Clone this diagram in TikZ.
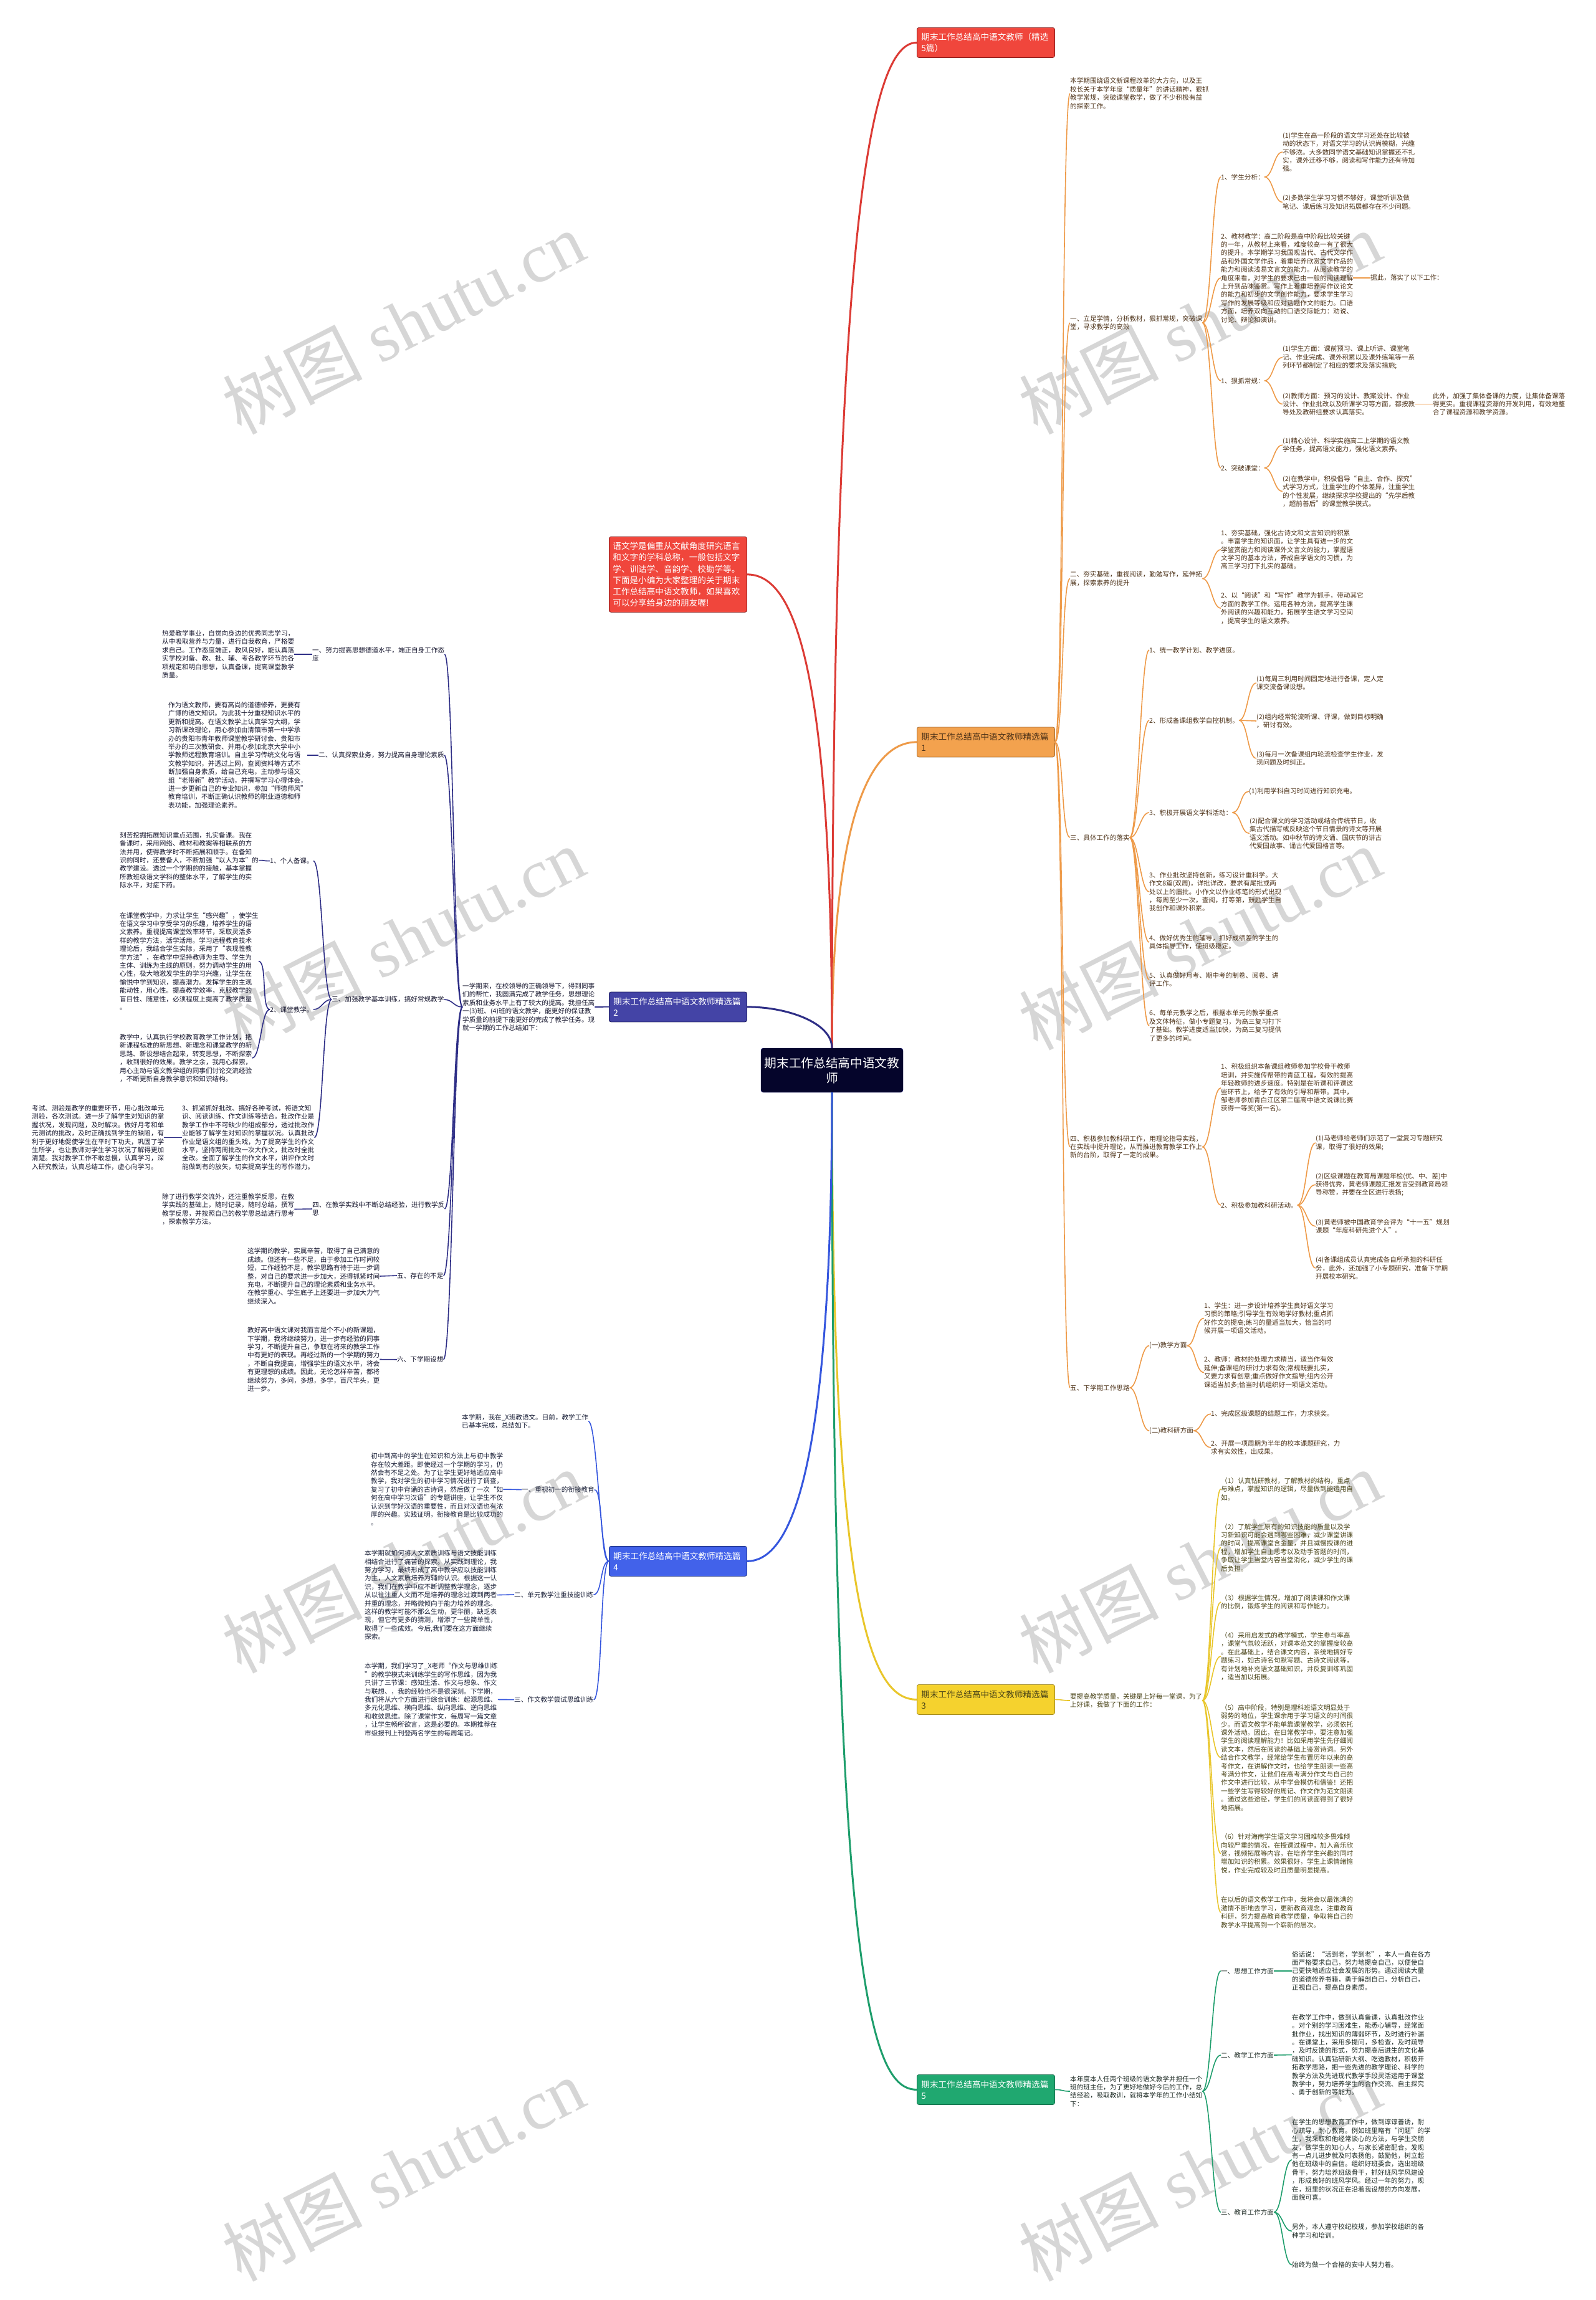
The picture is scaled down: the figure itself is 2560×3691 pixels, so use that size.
\documentclass[tikz,border=0pt]{standalone}
\usepackage{fontspec}
\setmainfont{Noto Sans CJK SC}
\newfontfamily\wmlatin{Liberation Serif}
\newfontfamily\wmcjk{Noto Sans CJK SC}
\definecolor{cRed}{HTML}{DC3B35}
\definecolor{cRedFill}{HTML}{F0463C}
\definecolor{cRedDraw}{HTML}{8A1C1C}
\definecolor{cOrange}{HTML}{EE9A48}
\definecolor{cOrangeFill}{HTML}{F3A24E}
\definecolor{cYellow}{HTML}{E9C62A}
\definecolor{cYellowFill}{HTML}{F5D22E}
\definecolor{cGreen}{HTML}{1E9E6C}
\definecolor{cGreenFill}{HTML}{20A870}
\definecolor{cIndigo}{HTML}{2E2E86}
\definecolor{cIndigoFill}{HTML}{4444A6}
\definecolor{cBlue}{HTML}{3556DE}
\definecolor{cBlueFill}{HTML}{4262EA}
\definecolor{cCenter}{HTML}{05052B}
\definecolor{tOrange}{HTML}{4D3218}
\definecolor{tYellow}{HTML}{4A4418}
\definecolor{tGreen}{HTML}{1E2B25}
\definecolor{tIndigo}{HTML}{16162E}
\definecolor{tBlue}{HTML}{1A2038}
\definecolor{wmc}{HTML}{D6D6D6}
\newcommand\conR[3]{\draw[#1] (#2.east) .. controls +(14,0) and +(-14,0) .. (#3.west);}
\newcommand\conL[3]{\draw[#1] (#2.west) .. controls +(-14,0) and +(14,0) .. (#3.east);}
\begin{document}
\begin{tikzpicture}[x=1pt,y=-1pt,
  every node/.style={inner sep=0pt},
  basetxt/.style={anchor=west, align=left, font=\fontsize{10.6}{13.4}\selectfont},
  tO/.style={basetxt, text=tOrange},
  tY/.style={basetxt, text=tYellow},
  tG/.style={basetxt, text=tGreen},
  tI/.style={basetxt, text=tIndigo},
  tB/.style={basetxt, text=tBlue},
  ttl/.style={anchor=north west, rounded corners=3pt, inner xsep=7pt, inner ysep=4pt, text width=207pt, align=left, minimum height=48pt, font=\fontsize{13.6}{18.1}\selectfont, line width=0.8pt},
  lnO/.style={draw=cOrange, line width=1.6pt},
  lnY/.style={draw=cYellow, line width=1.6pt},
  lnG/.style={draw=cGreen, line width=1.6pt},
  lnI/.style={draw=cIndigo, line width=1.6pt},
  lnB/.style={draw=cBlue, line width=1.6pt},
  brR/.style={draw=cRed, line width=3pt},
  brO/.style={draw=cOrange, line width=3pt},
  brY/.style={draw=cYellow, line width=3pt},
  brG/.style={draw=cGreen, line width=3pt},
  brI/.style={draw=cIndigo, line width=3pt},
  brB/.style={draw=cBlue, line width=3pt},
  wmark/.style={text=wmc, font=\fontsize{112}{112}\selectfont, rotate=27, anchor=center}
]
\fill[white] (0,0) rectangle (2560,3691);
\useasboundingbox (0,0) rectangle (2560,3691);

% watermarks
\node[wmark] (wm1) at (647,518) {{\wmcjk 树图}\hspace{0.25em}{\wmlatin shutu.cn}};
\node[wmark] (wm2) at (1925,518) {{\wmcjk 树图}\hspace{0.25em}{\wmlatin shutu.cn}};
\node[wmark] (wm3) at (647,1506) {{\wmcjk 树图}\hspace{0.25em}{\wmlatin shutu.cn}};
\node[wmark] (wm4) at (1925,1506) {{\wmcjk 树图}\hspace{0.25em}{\wmlatin shutu.cn}};
\node[wmark] (wm5) at (647,2506) {{\wmcjk 树图}\hspace{0.25em}{\wmlatin shutu.cn}};
\node[wmark] (wm6) at (1925,2506) {{\wmcjk 树图}\hspace{0.25em}{\wmlatin shutu.cn}};
\node[wmark] (wm7) at (647,3482) {{\wmcjk 树图}\hspace{0.25em}{\wmlatin shutu.cn}};
\node[wmark] (wm8) at (1925,3482) {{\wmcjk 树图}\hspace{0.25em}{\wmlatin shutu.cn}};

% center
\node[fill=cCenter, draw=cCenter!70!blue, rounded corners=4pt, minimum width=228pt, minimum height=71pt, align=center, text=white, font=\fontsize{19.7}{24}\selectfont] (C) at (1335,1717.5) {期末工作总结高中语文教\\师};

% titles
\node[ttl, fill=cRedFill, draw=cRedDraw, text=white] (T0) at (1471,44) {期末工作总结高中语文教师（精选\\5篇）};
\node[ttl, fill=cOrangeFill, draw=cOrange!70!black, text=tOrange] (T1) at (1471,1166.5) {期末工作总结高中语文教师精选篇\\1};
\node[ttl, fill=cYellowFill, draw=cYellow!70!black, text=tYellow] (T3) at (1471,2703) {期末工作总结高中语文教师精选篇\\3};
\node[ttl, fill=cGreenFill, draw=cGreen!70!black, text=white] (T5) at (1471,3329) {期末工作总结高中语文教师精选篇\\5};
\node[ttl, fill=cIndigoFill, draw=cIndigo!70!black, text=white] (T2) at (977,1591.5) {期末工作总结高中语文教师精选篇\\2};
\node[ttl, fill=cBlueFill, draw=cBlue!60!black, text=white] (T4) at (977,2481) {期末工作总结高中语文教师精选篇\\4};
\node[ttl, fill=cRedFill, draw=cRedDraw, text=white, minimum height=121pt, inner xsep=6pt, text width=209pt] (R) at (977,861) {语文学是偏重从文献角度研究语言\\和文字的学科总称，一般包括文字\\学、训诂学、音韵学、校勘学等。\\下面是小编为大家整理的关于期末\\工作总结高中语文教师，如果喜欢\\可以分享给身边的朋友喔!};

% ===== orange branch (篇1) =====
\node[tO] (a0) at (1717,150) {本学期围绕语文新课程改革的大方向，以及王\\校长关于本学年度“质量年”的讲话精神，狠抓\\教学常规，突破课堂教学，做了不少积极有益\\的探索工作。};
\node[tO] (a1) at (1717,518) {一、立足学情，分析教材，狠抓常规，突破课\\堂，寻求教学的高效};
\node[tO] (b1) at (1959,284) {1、学生分析：};
\node[tO] (c1) at (2058,244) {(1)学生在高一阶段的语文学习还处在比较被\\动的状态下，对语文学习的认识尚模糊，兴趣\\不够浓。大多数同学语文基础知识掌握还不扎\\实，课外迁移不够，阅读和写作能力还有待加\\强。};
\node[tO] (c2) at (2058,324.5) {(2)多数学生学习习惯不够好，课堂听讲及做\\笔记、课后练习及知识拓展都存在不少问题。};
\node[tO] (b2) at (1959,446) {2、教材教学：高二阶段是高中阶段比较关键\\的一年，从教材上来看，难度较高一有了很大\\的提升。本学期学习我国现当代、古代文学作\\品和外国文学作品，着重培养欣赏文学作品的\\能力和阅读浅易文言文的能力。从阅读教学的\\角度来看，对学生的要求已由一般的阅读理解\\上升到品味鉴赏。写作上着重培养写作议论文\\的能力和初步的文学创作能力，要求学生学习\\写作的发展等级和应对话题作文的能力。口语\\方面，培养双向互动的口语交际能力：劝说、\\讨论、辩论和演讲。};
\node[tO] (d1) at (2199,446) {据此，落实了以下工作：};
\node[tO] (b3) at (1959,611) {1、狠抓常规：};
\node[tO] (c3) at (2058,573.5) {(1)学生方面：课前预习、课上听讲、课堂笔\\记、作业完成、课外积累以及课外练笔等一系\\列环节都制定了相应的要求及落实措施;};
\node[tO] (c4) at (2058,648.5) {(2)教师方面：预习的设计、教案设计、作业\\设计、作业批改以及听课学习等方面，都按教\\导处及教研组要求认真落实。};
\node[tO] (d2) at (2299,648.5) {此外，加强了集体备课的力度，让集体备课落\\得更实。重视课程资源的开发利用，有效地整\\合了课程资源和教学资源。};
\node[tO] (b4) at (1959,751) {2、突破课堂：};
\node[tO] (c5) at (2058,714) {(1)精心设计、科学实施高二上学期的语文教\\学任务，提高语文能力，强化语文素养。};
\node[tO] (c6) at (2058,788.5) {(2)在教学中，积极倡导“自主、合作、探究”\\式学习方式，注重学生的个体差异，注重学生\\的个性发展，继续探求学校提出的“先学后教\\，超前善后”的课堂教学模式。};
\node[tO] (a2) at (1717,928.5) {二、夯实基础，重视阅读，勤勉写作，延伸拓\\展，探索素养的提升};
\node[tO] (b5) at (1959,882) {1、夯实基础，强化古诗文和文言知识的积累\\。丰富学生的知识面，让学生具有进一步的文\\学鉴赏能力和阅读课外文言文的能力，掌握语\\文学习的基本方法，养成自学语文的习惯，为\\高三学习打下扎实的基础。};
\node[tO] (b6) at (1959,976) {2、以“阅读”和“写作”教学为抓手，带动其它\\方面的教学工作。运用各种方法，提高学生课\\外阅读的兴趣和能力，拓展学生语文学习空间\\，提高学生的语文素养。};
\node[tO] (a3) at (1717,1344) {三、具体工作的落实};
\node[tO] (b7) at (1844,1043) {1、统一教学计划、教学进度。};
\node[tO] (b8) at (1844,1156) {2、形成备课组教学自控机制。};
\node[tO] (c7) at (2016,1096) {(1)每周三利用时间固定地进行备课，定人定\\课交流备课设想。};
\node[tO] (c8) at (2016,1157) {(2)组内经常轮流听课、评课，做到目标明确\\，研讨有效。};
\node[tO] (c9) at (2016,1217) {(3)每月一次备课组内轮流检查学生作业，发\\现问题及时纠正。};
\node[tO] (b9) at (1844,1304) {3、积极开展语文学科活动：};
\node[tO] (c10) at (2004,1270) {(1)利用学科自习时间进行知识充电。};
\node[tO] (c11) at (2005,1337.5) {(2)配合课文的学习活动或结合传统节日，收\\集古代描写或反映这个节日情景的诗文等开展\\语文活动。如中秋节的诗文诵、国庆节的讲古\\代爱国故事、诵古代爱国格言等。};
\node[tO] (b10) at (1844,1431) {3、作业批改坚持创新，练习设计重科学。大\\作文8篇(双周)，详批详改，要求有尾批或两\\处以上的眉批。小作文以作业练笔的形式出现\\，每周至少一次，查阅，打等第，鼓励学生自\\我创作和课外积累。};
\node[tO] (b11) at (1844,1512) {4、做好优秀生的辅导，抓好成绩差的学生的\\具体指导工作，使班级稳定。};
\node[tO] (b12) at (1844,1572) {5、认真做好月考、期中考的制卷、阅卷、讲\\评工作。};
\node[tO] (b13) at (1844,1646) {6、每单元教学之后，根据本单元的教学重点\\及文体特征，做小专题复习，为高三复习打下\\了基础。教学进度适当加快，为高三复习提供\\了更多的时间。};
\node[tO] (a4) at (1717,1840.5) {四、积极参加教科研工作，用理论指导实践，\\在实践中提升理论，从而推进教育教学工作上\\新的台阶，取得了一定的成果。};
\node[tO] (b14) at (1959,1746) {1、积极组织本备课组教师参加学校骨干教师\\培训，并实施传帮带的青蓝工程，有效的提高\\年轻教师的进步速度。特别是在听课和评课这\\些环节上，给予了有效的引导和帮带。其中，\\邹老师参加青白江区第二届高中语文说课比赛\\获得一等奖(第一名)。};
\node[tO] (b15) at (1959,1934) {2、积极参加教科研活动。};
\node[tO] (c12) at (2111,1834) {(1)马老师给老师们示范了一堂复习专题研究\\课，取得了很好的效果;};
\node[tO] (c13) at (2111,1901) {(2)区级课题在教育局课题年检(优、中、差)中\\获得优秀，黄老师课题汇报发言受到教育局领\\导称赞，并要在全区进行表扬;};
\node[tO] (c14) at (2111,1968) {(3)黄老师被中国教育学会评为“十一五”规划\\课题“年度科研先进个人”。};
\node[tO] (c15) at (2111,2035) {(4)备课组成员认真完成各自所承担的科研任\\务，此外，还加强了小专题研究，准备下学期\\开展校本研究。};
\node[tO] (a5) at (1717,2227) {五、下学期工作思路};
\node[tO] (b16) at (1844,2159.5) {(一)教学方面};
\node[tO] (c16) at (1932,2115.5) {1、学生：进一步设计培养学生良好语文学习\\习惯的策略;引导学生有效地学好教材;重点抓\\好作文的提高;练习的量适当加大，恰当的时\\候开展一项语文活动。};
\node[tO] (c17) at (1932,2202.5) {2、教师：教材的处理力求精当，适当作有效\\延伸;备课组的研讨力求有效;常规既要扎实，\\又要力求有创意;重点做好作文指导;组内公开\\课适当加多;恰当时机组织好一项语文活动。};
\node[tO] (b17) at (1844,2296) {(二)教科研方面};
\node[tO] (c18) at (1943,2269) {1、完成区级课题的结题工作，力求获奖。};
\node[tO] (c19) at (1943,2323) {2、开展一项周期为半年的校本课题研究，力\\求有实效性，出成果。};

% ===== yellow branch (篇3) =====
\node[tY] (p3) at (1717,2729) {要提高教学质量，关键是上好每一堂课，为了\\上好课，我做了下面的工作：};
\node[tY] (y1) at (1959,2389.5) {（1）认真钻研教材，了解教材的结构，重点\\与难点，掌握知识的逻辑，尽量做到能运用自\\如。};
\node[tY] (y2) at (1959,2483.5) {（2）了解学生原有的知识技能的质量以及学\\习新知识可能会遇到哪些困难，减少课堂讲课\\的时间，提高课堂含金量，并且减慢授课的进\\程，增加学生自主思考以及动手答题的时间，\\争取让学生当堂内容当堂消化，减少学生的课\\后负担。};
\node[tY] (y3) at (1959,2571) {（3）根据学生情况，增加了阅读课和作文课\\的比例，锻炼学生的阅读和写作能力。};
\node[tY] (y4) at (1959,2658) {（4）采用启发式的教学模式，学生参与率高\\，课堂气氛较活跃，对课本范文的掌握度较高\\。在此基础上，结合课文内容，系统地搞好专\\题练习，如古诗名句默写题、古诗文阅读等，\\有计划地补充语文基础知识，并反复训练巩固\\，适当加以拓展。};
\node[tY] (y5) at (1959,2820.5) {（5）高中阶段，特别是理科班语文明显处于\\弱势的地位，学生课余用于学习语文的时间很\\少。而语文教学不能单靠课堂教学，必须依托\\课外活动。因此，在日常教学中，要注意加强\\学生的阅读理解能力！比如采用学生先仔细阅\\读文本，然后在阅读的基础上鉴赏诗词。另外\\结合作文教学，经常给学生布置历年以来的高\\考作文，在讲解作文时，也给学生朗读一些高\\考满分作文，让他们在高考满分作文与自己的\\作文中进行比较，从中学会模仿和借鉴！还把\\一些学生写得较好的周记、作文作为范文朗读\\。通过这些途径，学生们的阅读面得到了很好\\地拓展。};
\node[tY] (y6) at (1959,2974.5) {（6）针对海南学生语文学习困难较多畏难倾\\向较严重的情况，在授课过程中，加入音乐欣\\赏，视频拓展等内容，在培养学生兴趣的同时\\增加知识的积累。效果很好，学生上课情绪愉\\悦，作业完成较及时且质量明显提高。};
\node[tY] (y7) at (1959,3069) {在以后的语文教学工作中，我将会以最饱满的\\激情不断地去学习，更新教育观念，注重教育\\科研，努力提高教育教学质量，争取将自己的\\教学水平提高到一个崭新的层次。};

% ===== green branch (篇5) =====
\node[tG] (p5) at (1717,3356) {本年度本人任两个班级的语文教学并担任一个\\班的班主任，为了更好地做好今后的工作，总\\结经验，吸取教训，就将本学年的工作小结如\\下：};
\node[tG] (g1) at (1959,3163) {一、思想工作方面};
\node[tG] (h1) at (2073,3163) {俗话说：“活到老，学到老”，本人一直在各方\\面严格要求自己，努力地提高自己，以便使自\\己更快地适应社会发展的形势。通过阅读大量\\的道德修养书籍，勇于解剖自己，分析自己，\\正视自己，提高自身素质。};
\node[tG] (g2) at (1959,3298) {二、教学工作方面};
\node[tG] (h2) at (2073,3297.5) {在教学工作中，做到认真备课，认真批改作业\\。对个别的学习困难生，能悉心辅导，经常面\\批作业，找出知识的薄弱环节，及时进行补漏\\。在课堂上，采用多提问，多检查，及时疏导\\，及时反馈的形式，努力提高后进生的文化基\\础知识。认真钻研新大纲、吃透教材，积极开\\拓教学思路，把一些先进的教学理论、科学的\\教学方法及先进现代教学手段灵活运用于课堂\\教学中，努力培养学生的合作交流、自主探究\\、勇于创新的等能力。};
\node[tG] (g3) at (1959,3550) {三、教育工作方面};
\node[tG] (h3) at (2073,3466) {在学生的思想教育工作中，做到谆谆善诱，耐\\心疏导，耐心教育。例如班里略有“问题”的学\\生，我采取和他经常谈心的方法，与学生交朋\\友，做学生的知心人，与家长紧密配合，发现\\有一点儿进步就及时表扬他，鼓励他，树立起\\他在班级中的自信。组织好班委会，选出班级\\骨干，努力培养班级骨干，抓好班风学风建设\\，形成良好的班风学风。经过一年的努力，现\\在，班里的状况正在沿着我设想的方向发展，\\面貌可喜。};
\node[tG] (h4) at (2073,3580.5) {另外，本人遵守校纪校规，参加学校组织的各\\种学习和培训。};
\node[tG] (h5) at (2073,3634.5) {始终为做一个合格的安中人努力着。};

% ===== indigo branch (篇2) =====
\node[tI] (L0) at (742,1616) {一学期来，在校领导的正确领导下，得到同事\\们的帮忙，我圆满完成了教学任务，思想理论\\素质和业务水平上有了较大的提高。我担任高\\一(3)班、(4)班的语文教学，能更好的保证教\\学质量的前提下能更好的完成了教学任务。现\\就一学期的工作总结如下：};
\node[tI] (l1) at (501,1050) {一、努力提高思想德道水平，端正自身工作态\\度};
\node[tI] (m1) at (260,1050) {热爱教学事业，自觉向身边的优秀同志学习，\\从中吸取营养与力量，进行自我教育，严格要\\求自己。工作态度端正，教风良好，能认真落\\实学校对备、教、批、辅、考各教学环节的各\\项规定和明白思想，认真备课，提高课堂教学\\质量。};
\node[tI] (l2) at (511,1212) {二、认真探索业务，努力提高自身理论素质};
\node[tI] (m2) at (270,1212) {作为语文教师，要有高尚的道德修养，更要有\\广博的语文知识。为此我十分重视知识水平的\\更新和提高。在语文教学上认真学习大纲，学\\习新课改理论，用心参加由清镇市第一中学承\\办的贵阳市青年教师课堂教学研讨会、贵阳市\\举办的三次教研会、并用心参加北京大学中小\\学教师远程教育培训。自主学习传统文化与语\\文教学知识，并透过上网，查阅资料等方式不\\断加强自身素质，给自己充电，主动参与语文\\组“老带新”教学活动，并撰写学习心得体会，\\进一步更新自己的专业知识，参加“师德师风”\\教育培训，不断正确认识教师的职业道德和师\\表功能，加强理论素养。};
\node[tI] (l3) at (532,1604) {三、加强教学基本训练，搞好常规教学};
\node[tI] (n1) at (433,1381.6) {1、个人备课。};
\node[tI] (o1) at (192,1380.6) {刻苦挖掘拓展知识重点范围，扎实备课。我在\\备课时，采用网络、教材和教案等相联系的方\\法并用，使得教学时不断拓展和顺手。在备知\\识的同时，还要备人，不断加强“以人为本”的\\教学建设。透过一个学期的的接触，基本掌握\\所教班级语文学科的整体水平，了解学生的实\\际水平，对症下药。};
\node[tI] (n2) at (433,1620) {2、课堂教学。};
\node[tI] (o2) at (192,1542.6) {在课堂教学中，力求让学生“感兴趣”，使学生\\在语文学习中享受学习的乐趣，培养学生的语\\文素养。重视提高课堂效率环节，采取灵活多\\样的教学方法，活学活用。学习远程教育技术\\理论后，我结合学生实际，采用了“表现性教\\学方法”，在教学中坚持教师为主导、学生为\\主体、训练为主线的原则，努力调动学生的用\\心性，极大地激发学生的学习兴趣，让学生在\\愉悦中学到知识，提高潜力。发挥学生的主观\\能动性，用心性。提高教学效率，克服教学的\\盲目性、随意性，必须程度上提高了教学质量\\。};
\node[tI] (o3) at (192,1698) {教学中，认真执行学校教育教学工作计划，把\\新课程标准的新思想、新理念和课堂教学的新\\思路、新设想结合起来，转变思想，不断探索\\，收到很好的效果。教学之余，我用心探索，\\用心主动与语文教学组的同事们讨论交流经验\\，不断更新自身教学意识和知识结构。};
\node[tI] (n3) at (292,1825.5) {3、抓紧抓好批改、搞好各种考试，将语文知\\识、阅读训练、作文训练等结合。批改作业是\\教学工作中不可缺少的组成部分，透过批改作\\业能够了解学生对知识的掌握状况。认真批改\\作业是语文组的重头戏，为了提高学生的作文\\水平，坚持两周批改一次大作文，批改时全批\\全改。全面了解学生的作文水平，讲评作文时\\能做到有的放矢，切实提高学生的写作潜力。};
\node[tI] (o4) at (51,1825.5) {考试、测验是教学的重要环节，用心批改单元\\测验，各次测试。进一步了解学生对知识的掌\\握状况，发现问题，及时解决。做好月考和单\\元测试的批改，及时正确找到学生的缺陷，有\\利于更好地促使学生在平时下功夫，巩固了学\\生所学，也让教师对学生学习状况了解得更加\\清楚。我对教学工作不敢怠慢，认真学习，深\\入研究教法，认真总结工作，虚心向学习。};
\node[tI] (l4) at (501,1940) {四、在教学实践中不断总结经验，进行教学反\\思};
\node[tI] (m4) at (260,1940.5) {除了进行教学交流外，还注重教学反思，在教\\学实践的基础上，随时记录，随时总结，撰写\\教学反思，并按照自己的教学思总结进行思考\\，探索教学方法。};
\node[tI] (l5) at (637,2047) {五、存在的不足};
\node[tI] (m5) at (397,2048) {这学期的教学，实属辛苦，取得了自己满意的\\成绩。但还有一些不足，由于参加工作时间较\\短，工作经验不足，教学思路有待于进一步调\\整，对自己的要求进一步加大，还得抓紧时间\\充电，不断提升自己的理论素质和业务水平。\\在教学重心、学生底子上还要进一步加大力气\\继续深入。};
\node[tI] (l6) at (637,2181.7) {六、下学期设想};
\node[tI] (m6) at (397,2181.5) {教好高中语文课对我而言是个不小的新课题，\\下学期，我将继续努力，进一步有经验的同事\\学习，不断提升自己，争取在将来的教学工作\\中有更好的表现。再经过新的一个学期的努力\\，不断自我提高，增强学生的语文水平，将会\\有更理想的成绩。因此，无论怎样辛苦，都将\\继续努力，多问，多想，多学，百尺竿头，更\\进一步。};

% ===== blue branch (篇4) =====
\node[tB] (q0) at (741,2281) {本学期，我在\_X班教语文。目前，教学工作\\已基本完成，总结如下。};
\node[tB] (q1) at (837,2390.6) {一、重视初一的衔接教育};
\node[tB] (r1) at (595,2390) {初中到高中的学生在知识和方法上与初中教学\\存在较大差距。即使经过一个学期的学习，仍\\然会有不足之处。为了让学生更好地适应高中\\教学，我对学生的初中学习情况进行了调查，\\复习了初中背诵的古诗词，然后做了一次“如\\何在高中学习汉语”的专题讲座，让学生不仅\\认识到学好汉语的重要性，而且对汉语也有浓\\厚的兴趣。实践证明，衔接教育是比较成功的\\。};
\node[tB] (q2) at (825,2559) {二、单元教学注重技能训练};
\node[tB] (r2) at (585,2559.6) {本学期就如何将人文素质训练与语文技能训练\\相结合进行了痛苦的探索。从实践到理论，我\\努力学习，最终形成了高中教学应以技能训练\\为主，人文素质培养为辅的认识。根据这一认\\识，我们在教学中应不断调整教学理念，逐步\\从以往注重人文而不是培养的理念过渡到两者\\并重的理念，并略微倾向于能力培养的理念。\\这样的教学可能不那么生动，更华丽，缺乏表\\现，但它有更多的猜测，增添了一些简单性，\\取得了一些成效。今后,我们要在这方面继续\\探索。};
\node[tB] (q3) at (825,2727.6) {三、作文教学尝试思维训练};
\node[tB] (r3) at (585,2727.4) {本学期，我们学习了\_X老师“作文与思维训练\\”的教学模式来训练学生的写作思维，因为我\\只讲了三节课：感知生活、作文与想象、作文\\与联想、，我的经验也不是很深刻。下学期，\\我们将从六个方面进行综合训练：起源思维、\\多元化思维、横向思维、纵向思维、逆向思维\\和收敛思维。除了课堂作文，每周写一篇文章\\，让学生畅所欲言，这是必要的。本期推荐在\\市级报刊上刊登两名学生的每周笔记。};

% ===== center to branch connectors =====
\draw[brR] (C.north) .. controls (1335,330) and (1400,68) .. (T0.west);
\draw[brO] (C.north) .. controls (1335,1300) and (1400,1190.5) .. (T1.west);
\draw[brR] (C.north) .. controls (1335,1050) and (1270,921.5) .. (R.east);
\draw[brI] (C.north) .. controls (1335,1640) and (1260,1615.5) .. (T2.east);
\draw[brY] (C.south) .. controls (1335,2600) and (1400,2727) .. (T3.west);
\draw[brG] (C.south) .. controls (1335,3200) and (1400,3353) .. (T5.west);
\draw[brB] (C.south) .. controls (1335,2400) and (1260,2505) .. (T4.east);

% orange connectors
\conR{lnO}{T1}{a0}\conR{lnO}{T1}{a1}\conR{lnO}{T1}{a2}\conR{lnO}{T1}{a3}\conR{lnO}{T1}{a4}\conR{lnO}{T1}{a5}
\conR{lnO}{a1}{b1}\conR{lnO}{a1}{b2}\conR{lnO}{a1}{b3}\conR{lnO}{a1}{b4}
\conR{lnO}{b1}{c1}\conR{lnO}{b1}{c2}\conR{lnO}{b2}{d1}
\conR{lnO}{b3}{c3}\conR{lnO}{b3}{c4}\conR{lnO}{c4}{d2}
\conR{lnO}{b4}{c5}\conR{lnO}{b4}{c6}
\conR{lnO}{a2}{b5}\conR{lnO}{a2}{b6}
\conR{lnO}{a3}{b7}\conR{lnO}{a3}{b8}\conR{lnO}{a3}{b9}\conR{lnO}{a3}{b10}\conR{lnO}{a3}{b11}\conR{lnO}{a3}{b12}\conR{lnO}{a3}{b13}
\conR{lnO}{b8}{c7}\conR{lnO}{b8}{c8}\conR{lnO}{b8}{c9}
\conR{lnO}{b9}{c10}\conR{lnO}{b9}{c11}
\conR{lnO}{a4}{b14}\conR{lnO}{a4}{b15}
\conR{lnO}{b15}{c12}\conR{lnO}{b15}{c13}\conR{lnO}{b15}{c14}\conR{lnO}{b15}{c15}
\conR{lnO}{a5}{b16}\conR{lnO}{a5}{b17}
\conR{lnO}{b16}{c16}\conR{lnO}{b16}{c17}\conR{lnO}{b17}{c18}\conR{lnO}{b17}{c19}
% yellow
\conR{lnY}{T3}{p3}
\conR{lnY}{p3}{y1}\conR{lnY}{p3}{y2}\conR{lnY}{p3}{y3}\conR{lnY}{p3}{y4}\conR{lnY}{p3}{y5}\conR{lnY}{p3}{y6}\conR{lnY}{p3}{y7}
% green
\conR{lnG}{T5}{p5}
\conR{lnG}{p5}{g1}\conR{lnG}{p5}{g2}\conR{lnG}{p5}{g3}
\conR{lnG}{g1}{h1}\conR{lnG}{g2}{h2}
\conR{lnG}{g3}{h3}\conR{lnG}{g3}{h4}\conR{lnG}{g3}{h5}
% indigo
\conL{lnI}{T2}{L0}
\conL{lnI}{L0}{l1}\conL{lnI}{L0}{l2}\conL{lnI}{L0}{l3}\conL{lnI}{L0}{l4}\conL{lnI}{L0}{l5}\conL{lnI}{L0}{l6}
\conL{lnI}{l1}{m1}\conL{lnI}{l2}{m2}
\conL{lnI}{l3}{n1}\conL{lnI}{l3}{n2}\conL{lnI}{l3}{n3}
\conL{lnI}{n1}{o1}\conL{lnI}{n2}{o2}\conL{lnI}{n2}{o3}\conL{lnI}{n3}{o4}
\conL{lnI}{l4}{m4}\conL{lnI}{l5}{m5}\conL{lnI}{l6}{m6}
% blue
\conL{lnB}{T4}{q0}\conL{lnB}{T4}{q1}\conL{lnB}{T4}{q2}\conL{lnB}{T4}{q3}
\conL{lnB}{q1}{r1}\conL{lnB}{q2}{r2}\conL{lnB}{q3}{r3}
\end{tikzpicture}
\end{document}
